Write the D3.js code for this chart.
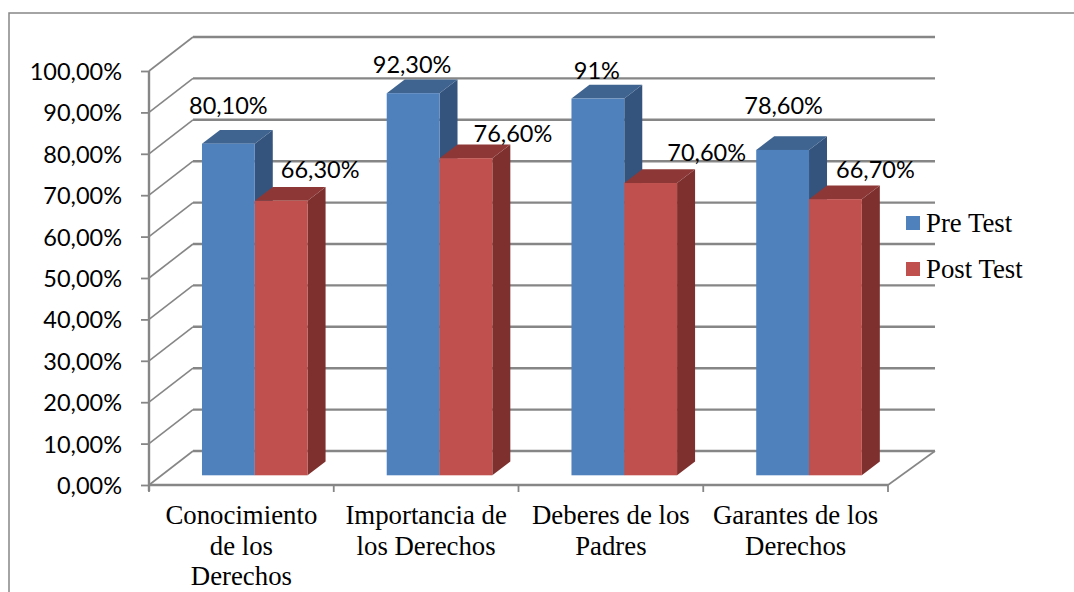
<!DOCTYPE html>
<html><head><meta charset="utf-8">
<script src="https://cdn.jsdelivr.net/npm/d3@7"></script>
<style>html,body{margin:0;padding:0;background:#fff;overflow:hidden}svg{display:block}</style>
</head><body><svg id="c" width="1074" height="592"></svg>
<script>
const categories = [["Conocimiento","de los","Derechos"],["Importancia de","los Derechos"],["Deberes de los","Padres"],["Garantes de los","Derechos"]];
const seriesNames = ["Pre Test","Post Test"];
const preTest = [80.1,92.3,91,78.6];
const postTest = [66.3,76.6,70.6,66.7];
const preLabels = ["80,10%","92,30%","91%","78,60%"];
const postLabels = ["66,30%","76,60%","70,60%","66,70%"];
const yTicks = [0,10,20,30,40,50,60,70,80,90,100];
const yTickLabels = ["0,00%","10,00%","20,00%","30,00%","40,00%","50,00%","60,00%","70,00%","80,00%","90,00%","100,00%"];

// layout only
const wall = {dx:44, dxRight:47, dy:-34}, barBase = {dx:13.4, dy:-9.7}, barDepth = {dx:18, dy:-13.7};
const labelNudge = [[[0,-30],[-1,-20],[-1,-20],[1,-36]],[[39,-23],[47,-16],[56,-22],[40,-21]]];
const faces = [{front:"#4F81BD",side:"#34537D",top:"#3F6490"},{front:"#C0504D",side:"#7D302E",top:"#8D3836"}];
const GRID="#868686", SANS="Lato, Carlito, sans-serif", SERIF="'Liberation Serif', serif";

const svg = d3.select("#c");
const x = d3.scaleBand().domain(d3.range(categories.length)).range([149,888]).paddingInner(0.4284).paddingOuter(0.2142);
const xs = d3.scaleBand().domain(d3.range(seriesNames.length)).range([0,x.bandwidth()]);
const y = d3.scaleLinear().domain([0,100]).range([485,71]);

svg.append("rect").attr("x",9).attr("y",13).attr("width",1100).attr("height",620).attr("fill","#fff").attr("stroke","#868686").attr("stroke-width",1.5);

// gridlines on walls
const grid = svg.append("g").attr("fill","none").attr("stroke",GRID);
yTicks.forEach(t=>{
  grid.append("path").attr("stroke-width",1.6).attr("d",d3.line()([[x.range()[0],y(t)],[x.range()[0]+wall.dx,y(t)+wall.dy]]));
  grid.append("path").attr("stroke-width",2.4).attr("d",d3.line()([[x.range()[0]+wall.dx,y(t)+wall.dy],[x.range()[1]+wall.dxRight,y(t)+wall.dy]]));
});
grid.append("path").attr("stroke-width",1.6).attr("d",d3.line()([[x.range()[1],y(0)],[x.range()[1]+wall.dxRight,y(0)+wall.dy]]));

// bars
const bars = svg.append("g");
const order = [];
categories.forEach((_,i)=>{ order.push([0,i],[1,i]); });
order.forEach(([s,i])=>{
  const v = (s===0?preTest:postTest)[i], f = faces[s];
  const x0 = x(i)+xs(s)+barBase.dx, x1 = x0+xs.bandwidth();
  const yb = y(0)+barBase.dy, yt = y(v)+barBase.dy;
  const dx=barDepth.dx, dy=barDepth.dy;
  const g = bars.append("g");
  g.append("path").attr("fill",f.side).attr("d",d3.line()([[x1,yt],[x1+dx,yt+dy],[x1+dx,yb+dy],[x1,yb]])+"Z");
  g.append("path").attr("fill",f.top).attr("d",d3.line()([[x0,yt],[x0+dx,yt+dy],[x1+dx,yt+dy],[x1,yt]])+"Z");
  g.append("rect").attr("x",x0).attr("y",yt).attr("width",x1-x0).attr("height",yb-yt).attr("fill",f.front);
});

// axes
const axisY = d3.axisLeft(y).tickValues(yTicks).tickFormat((d,i)=>yTickLabels[i]).tickSize(8).tickPadding(18);
const gy = svg.append("g").attr("transform",`translate(${x.range()[0]},0)`).call(axisY);
gy.selectAll("line").attr("stroke",GRID).attr("stroke-width",1.8);
gy.select(".domain").attr("stroke",GRID).attr("stroke-width",2.4).attr("d",`M0,${y(100)}V${y(0)+6}`);
gy.selectAll("text").attr("font-family",SANS).attr("font-size",23.5).attr("fill","#000").attr("dy","0.36em").attr("x",-27);

const gx = svg.append("g").attr("stroke",GRID);
gx.append("path").attr("fill","none").attr("stroke-width",2.4).attr("d",`M${x.range()[0]},${y(0)}H${x.range()[1]}`);
d3.range(categories.length+1).forEach(i=>{
  const px = x.range()[0]+i*x.step();
  gx.append("line").attr("x1",px).attr("x2",px).attr("y1",y(0)).attr("y2",y(0)+7).attr("stroke-width",1.8);
});

// category labels
const catG = svg.append("g").attr("font-family",SERIF).attr("font-size",26.8).attr("fill","#000").attr("text-anchor","middle");
categories.forEach((lines,i)=>{
  lines.forEach((t,k)=>{
    catG.append("text").attr("x",x(i)+x.bandwidth()/2).attr("y",524+k*30.6).text(t);
  });
});

// data labels
const dl = svg.append("g").attr("font-family",SANS).attr("font-size",23.5).attr("fill","#000").attr("text-anchor","middle");
[preLabels,postLabels].forEach((labs,s)=>{
  const vals = s===0?preTest:postTest;
  labs.forEach((t,i)=>{
    dl.append("text")
      .attr("x",x(i)+xs(s)+barBase.dx+xs.bandwidth()/2+labelNudge[s][i][0])
      .attr("y",y(vals[i])+barBase.dy+labelNudge[s][i][1]).text(t);
  });
});

// legend
const lg = svg.append("g");
seriesNames.forEach((n,i)=>{
  lg.append("rect").attr("x",906).attr("y",216+i*46).attr("width",14).attr("height",14).attr("fill",faces[i].front);
  lg.append("text").attr("x",926).attr("y",232+i*45.5).attr("font-family",SERIF).attr("font-size",26.8).attr("fill","#000").text(n);
});
</script></body></html>
